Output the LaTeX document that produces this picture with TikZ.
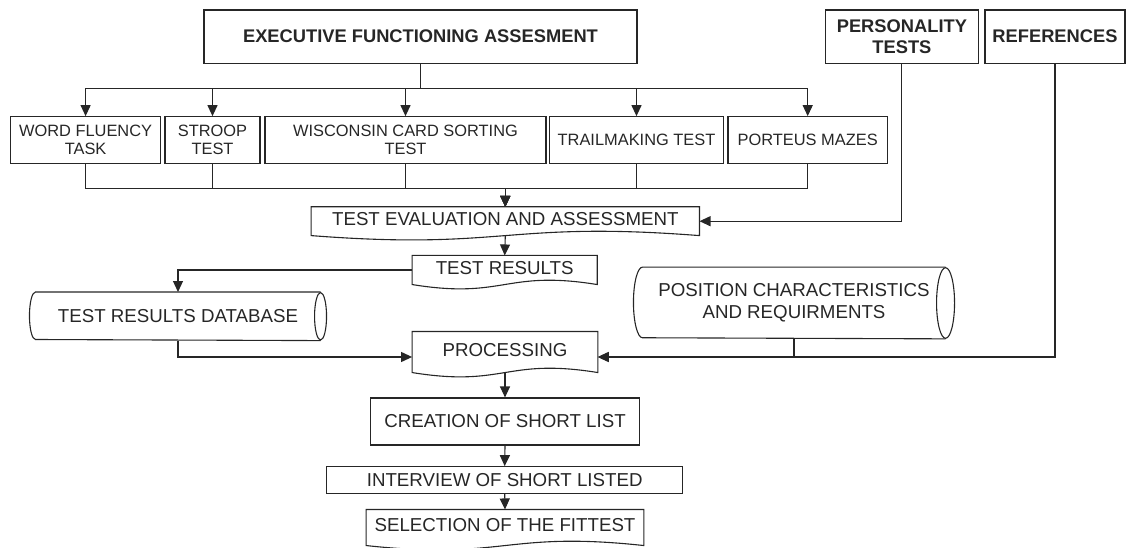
\documentclass[tikz,border=0pt]{standalone}
\usepackage{fontspec}
\setmainfont{Liberation Sans}
\usetikzlibrary{arrows.meta}
\usetikzlibrary{calc}
\tikzset{%
  arr/.style = {-{Triangle[length=11pt,width=10pt]}},
  hbox/.style = {rectangle,draw,inner sep=0pt,align=center,
        minimum height=53.3pt,font=\fontsize{18.3}{21}\selectfont\bfseries},
  tbox/.style = {rectangle,draw,inner sep=0pt,align=center,
        minimum height=46.6pt,font=\fontsize{16.4}{18.5}\selectfont},
  pbox/.style = {rectangle,draw,inner sep=0pt,align=center,
        font=\fontsize{18.7}{21.7}\selectfont},
  docbox/.style = {rectangle,inner sep=0pt,text height=13pt,text depth=5pt,
        font=\fontsize{18.7}{21.7}\selectfont},
  dbase/.style = {rectangle,inner sep=0pt,align=center,
        font=\fontsize{18.7}{21.7}\selectfont}
}
\newcommand{\docshape}[1]{%
  \draw (#1.south east) -- (#1.north east) -- (#1.north west) -- (#1.south west)
    .. controls ($(#1.south)+(0,15)$) and ($(#1.south)+(0,-15)$) .. (#1.south east) -- cycle;}
\newcommand{\dbshape}[3]{%
  \draw ([xshift=-#2pt]#1.north east) -- ([xshift=#2pt]#1.north west)
    arc[start angle=270,end angle=90,x radius=#2,y radius=#3]
    -- ([xshift=-#2pt]#1.south east);
  \draw ([xshift=-#2pt]#1.east) ellipse[x radius=#2,y radius=#3];}

\begin{document}
\begin{tikzpicture}[x=1pt,y=-1pt,line width=1.1pt,black!85]
  \useasboundingbox (0,0) rectangle (1130,548);
  \node[hbox,minimum width=433pt] (exec) at (420.5,36.7) {EXECUTIVE FUNCTIONING ASSESMENT};
  \node[hbox,minimum width=153.7pt] (pers) at (901.9,36.7) {PERSONALITY\\TESTS};
  \node[hbox,minimum width=140pt] (refs) at (1055,36.7) {REFERENCES};
  \node[tbox,minimum width=149.6pt] (wft) at (85.6,140) {WORD FLUENCY\\TASK};
  \node[tbox,minimum width=95pt] (stroop) at (212.5,140) {STROOP\\TEST};
  \node[tbox,minimum width=281pt] (wcst) at (405.5,140) {WISCONSIN CARD SORTING\\TEST};
  \node[tbox,minimum width=174pt] (tmt) at (636.5,140) {TRAILMAKING TEST};
  \node[tbox,minimum width=159.5pt] (pm) at (807.7,140) {PORTEUS MAZES};
  \node[docbox,minimum width=387.3pt,minimum height=27.7pt] (te) at (505.3,221.2) {TEST EVALUATION AND ASSESSMENT};
  \node[docbox,minimum width=184pt,minimum height=28pt] (tr) at (504.7,270) {TEST RESULTS};
  \node[dbase,minimum width=296pt,minimum height=47.5pt] (db) at (178,316.3) {TEST RESULTS DATABASE};
  \node[dbase,minimum width=320pt,minimum height=70.6pt] (pos) at (794,303) {POSITION CHARACTERISTICS\\AND REQUIRMENTS};
  \node[docbox,minimum width=184.7pt,minimum height=40pt] (proc) at (505,352) {PROCESSING};
  \node[pbox,minimum width=268.6pt,minimum height=47pt] (cre) at (505,421.5) {CREATION OF SHORT LIST};
  \node[pbox,minimum width=356pt,minimum height=26.6pt] (int) at (504.7,480) {INTERVIEW OF SHORT LISTED};
  \node[docbox,minimum width=276.6pt,minimum height=35pt] (sel) at (505,527.5) {SELECTION OF THE FITTEST};
  \docshape{te}
  \docshape{tr}
  \docshape{proc}
  \docshape{sel}
  \dbshape{db}{6}{23.75}
  \dbshape{pos}{9}{35.3}
  \foreach \t in {wft,stroop,wcst,tmt,pm} {
    \draw[arr] (exec.south) -- ++(0,25) -| (\t.north);
    \draw[arr] (\t.south) -- ++(0,25) -| (te.north);
  }
  \draw[arr] (pers.south) |- (te.east);
  \draw[arr] (te.south) -- (tr.north);
  \draw[arr] (tr.west) -| (db.north);
  \draw[arr] (db.south) |- ([yshift=-5pt]proc.west);
  \draw[arr] (refs.south) |- ([yshift=-5pt]proc.east);
  \draw[arr] (pos.south) |- ([yshift=-5pt]proc.east);
  \draw[arr] (proc.south) -- (cre.north);
  \draw[arr] (cre.south) -- (int.north);
  \draw[arr] (int.south) -- (sel.north);
\end{tikzpicture}
\end{document}
